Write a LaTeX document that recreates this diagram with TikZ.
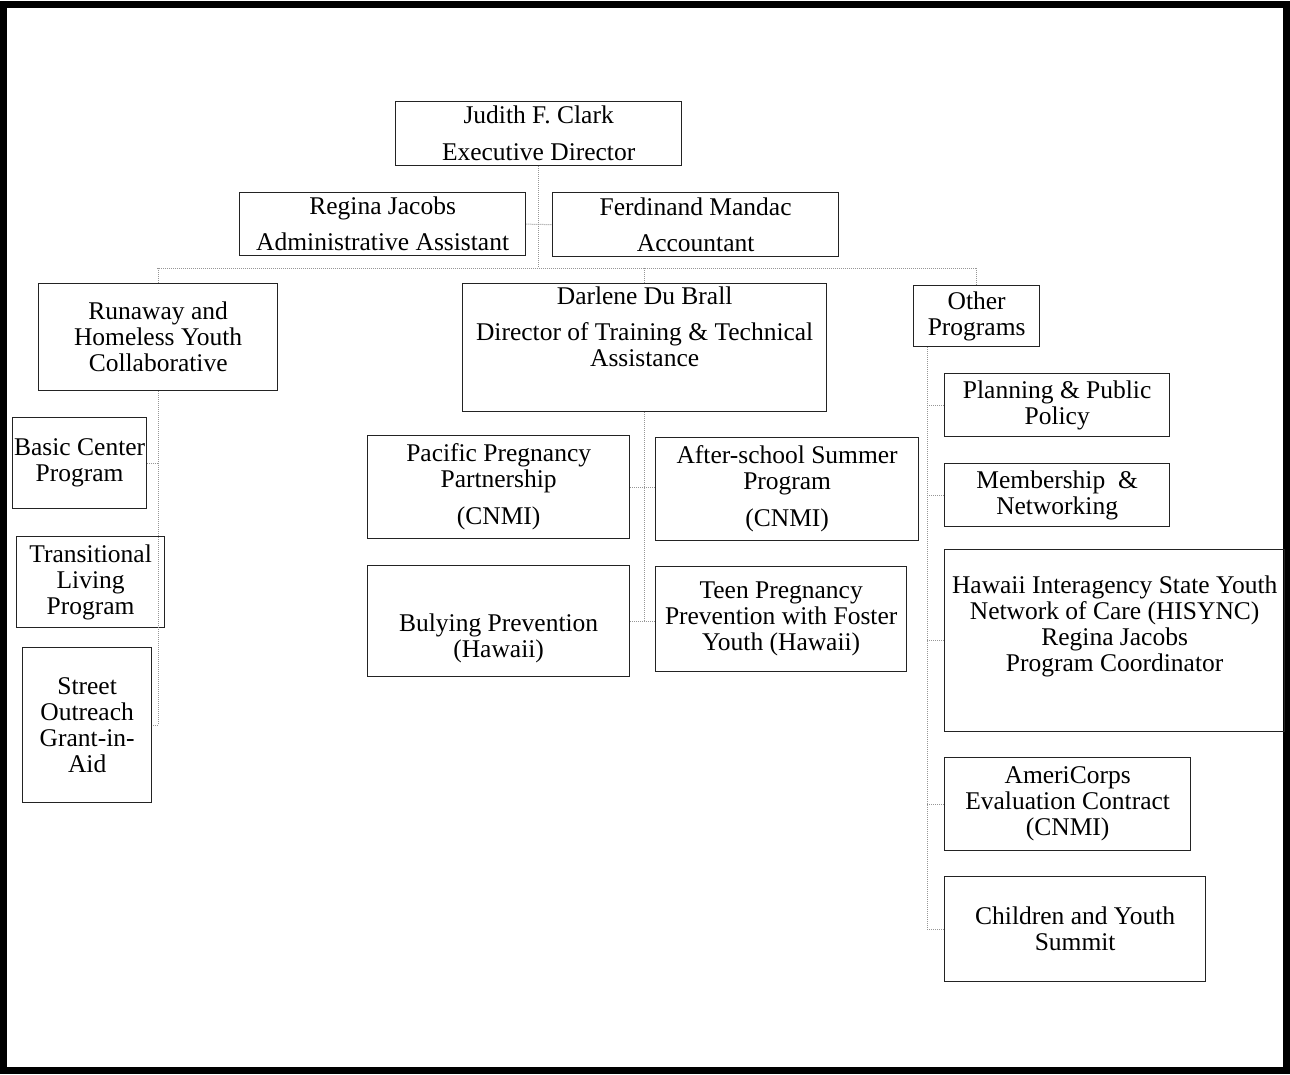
\documentclass[tikz,border=0pt]{standalone}
\usepackage{fontspec}
\setmainfont{Liberation Serif}
\definecolor{LinkGray}{RGB}{150,150,150}
\definecolor{BoxLine}{RGB}{35,35,35}

\begin{document}
\begin{tikzpicture}[x=1pt,y=-1pt,
  box/.style={draw=BoxLine,line width=1.3pt,anchor=north west,inner sep=0pt,align=center,font=\fontsize{25.5}{26}\selectfont},
  link/.style={LinkGray,densely dotted,line width=1pt}
]
\useasboundingbox (0,0) rectangle (1290,1074);
\draw[line width=7pt] (3.5,4) rectangle (1286.5,1070.5);

% top of the chart
\node[box,minimum width=286pt,minimum height=64pt] (exec) at (395,101) {Judith F. Clark\\[11pt]Executive Director};
\node[box,minimum width=286pt,minimum height=63pt] (admin) at (239,192) {Regina Jacobs\\[10pt]Administrative Assistant};
\node[box,minimum width=286pt,minimum height=64pt] (acct) at (552,192) {Ferdinand Mandac\\[10pt]Accountant};

% second level
\node[box,minimum width=239pt,minimum height=107pt] (run) at (38,283) {Runaway and\\Homeless Youth\\Collaborative};
\node[box,minimum width=364pt,minimum height=128pt] (dir) at (462,283) {Darlene Du Brall\\[10pt]Director of Training \& Technical\\Assistance\\[16pt]\mbox{}};
\node[box,minimum width=126pt,minimum height=61pt] (other) at (913,285) {Other\\Programs};

% runaway and homeless youth
\node[box,minimum width=134pt,minimum height=91pt] (basic) at (12,417) {Basic Center\\Program};
\node[box,minimum width=148pt,minimum height=91pt] (trans) at (16,536) {Transitional\\Living\\Program};
\node[box,minimum width=129pt,minimum height=155pt] (street) at (22,647) {Street\\Outreach\\Grant-in-\\Aid};

% training and technical assistance
\node[box,minimum width=262pt,minimum height=103pt] (preg) at (367,435) {Pacific Pregnancy\\Partnership\\[11pt](CNMI)};
\node[box,minimum width=263pt,minimum height=103pt] (after) at (655,437) {After-school Summer\\Program\\[11pt](CNMI)};
\node[box,minimum width=262pt,minimum height=111pt] (bully) at (367,565) {\mbox{}\\[26pt]Bulying Prevention\\(Hawaii)};
\node[box,minimum width=251pt,minimum height=105pt] (teen) at (655,566) {Teen Pregnancy\\Prevention with Foster\\Youth (Hawaii)};

% other programs
\node[box,minimum width=225pt,minimum height=63pt] (plan) at (944,373) {Planning \& Public\\Policy};
\node[box,minimum width=225pt,minimum height=63pt] (member) at (944,463) {Membership \ \&\\Networking};
\node[box,minimum width=340pt,minimum height=182pt] (hisync) at (944,549) {Hawaii Interagency State Youth\\Network of Care (HISYNC)\\Regina Jacobs\\Program Coordinator\\[8pt]\mbox{}};
\node[box,minimum width=246pt,minimum height=93pt] (corps) at (944,757) {AmeriCorps\\Evaluation Contract\\(CNMI)};
\node[box,minimum width=261pt,minimum height=105pt] (summit) at (944,876) {Children and Youth\\Summit};

% connectors
\coordinate (busL) at (157,268);
\coordinate (busR) at (976,268);
\draw[link] (exec.south) -- (exec.south |- busL);
\draw[link] (admin.east) -- (acct.west);
\draw[link] (busL) -- (busR);
\draw[link] (run.north) -- (run.north |- busL);
\draw[link] (dir.north) -- (dir.north |- busL);
\draw[link] (other.north) -- (other.north |- busL);

\draw[link] (run.south) |- (street.east);
\draw[link] (run.south |- basic.east) -- (basic.east);

\draw[link] (dir.south) -- (dir.south |- bully.east);
\draw[link] (preg.east) -- (preg.east -| after.west);
\draw[link] (bully.east) -- (bully.east -| teen.west);

\coordinate (oline) at ([xshift=14pt]other.south west);
\draw[link] (oline) |- (summit.west);
\foreach \n in {plan,member,hisync,corps}
  \draw[link] (oline |- \n.west) -- (\n.west);
\end{tikzpicture}
\end{document}
